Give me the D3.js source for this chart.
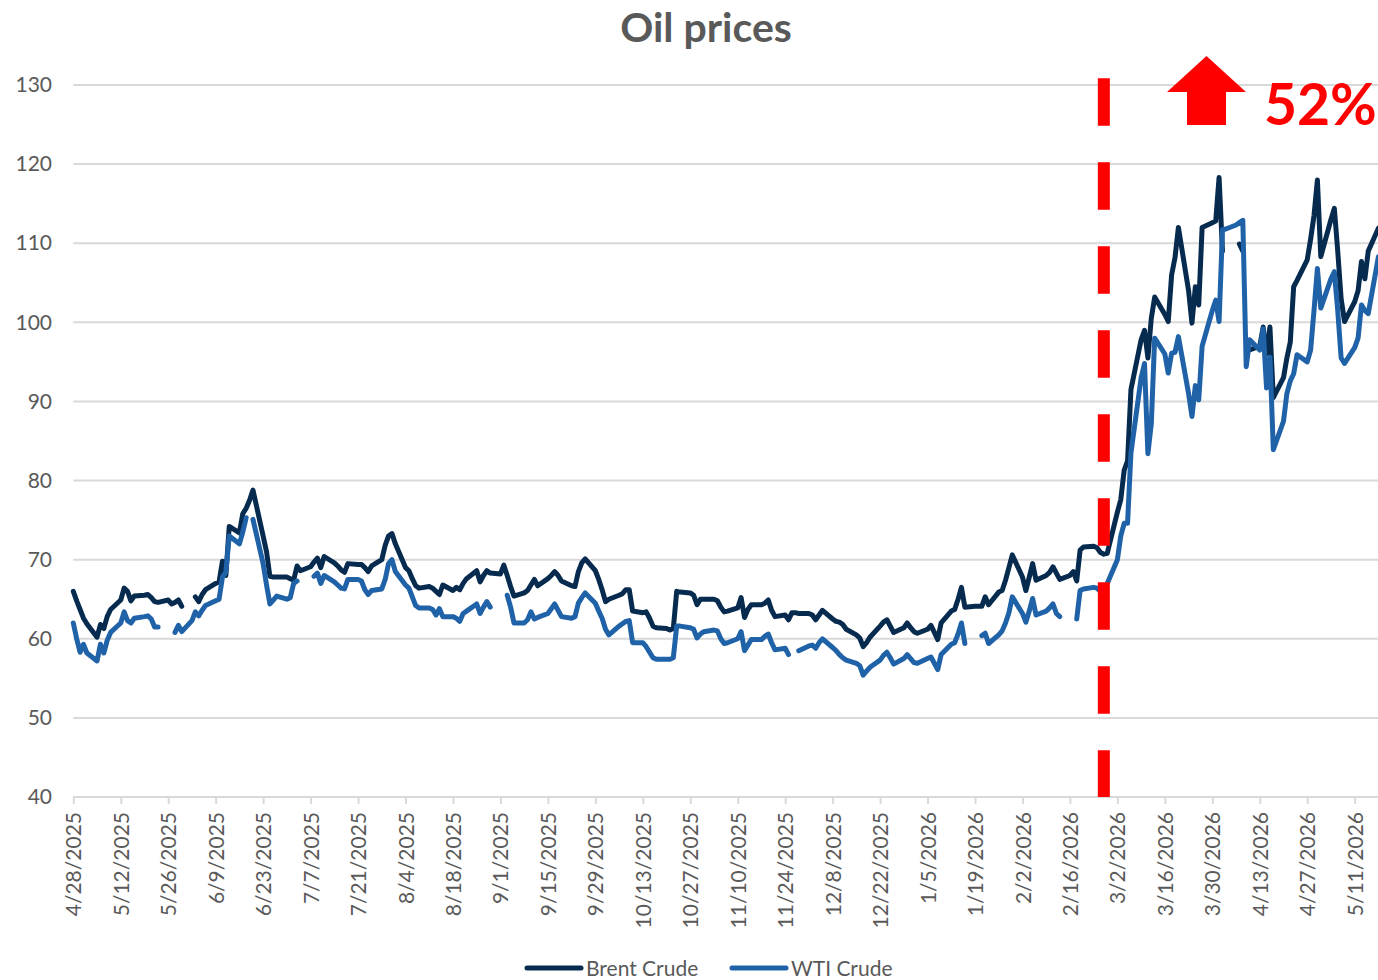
<!DOCTYPE html>
<html><head><meta charset="utf-8">
<script src="https://cdn.jsdelivr.net/npm/d3@7"></script>
<style>
body{margin:0;background:#fff}
svg{display:block}
text{font-family:Lato,"Noto Sans",sans-serif}
</style>
</head><body>
<svg id="chart" width="1378" height="980"></svg>
<script>
// ---------------- data ----------------
const chartTitle = "Oil prices";
const seriesNames = ["Brent Crude", "WTI Crude"];
const seriesColors = ["#062b4f", "#2062a8"];
// one value per trading weekday (Mon..Fri) starting on this date; null = no quote
const firstTradingDay = "2025-04-28";
const brent = [
 66.0,64.8,63.7,62.6,61.9,  60.2,61.8,61.3,62.8,63.7,  64.9,66.4,66.0,64.8,65.4,  65.5,65.6,65.2,64.7,64.6,
 64.9,64.4,64.6,64.9,64.1,  null,65.3,64.7,65.6,66.2,  67.0,67.2,69.8,68.0,74.2,  73.4,75.8,76.5,77.5,78.8,
 73.0,71.0,67.9,67.8,67.8,  67.8,67.6,67.4,69.2,68.6,  69.1,69.7,70.2,69.0,70.4,  69.6,69.2,68.7,68.4,69.5,
 69.4,69.4,69.0,68.5,69.2,  70.0,71.8,73.0,73.3,72.0,  69.0,68.6,67.6,66.7,66.4,  66.6,66.4,66.0,65.6,66.8,
 66.1,66.5,66.2,67.0,67.6,  68.6,67.2,68.0,68.6,68.3,  68.2,69.3,68.0,66.6,65.4,  65.8,66.1,66.8,67.5,66.7,
 67.6,68.0,68.5,68.0,67.3,  66.7,66.6,68.5,69.6,70.1,  68.6,67.5,66.2,64.7,65.0,  65.5,65.7,66.2,66.2,63.5,
 63.3,63.4,62.6,61.6,61.4,  61.3,61.1,61.3,66.0,65.9,  65.8,65.5,64.3,65.0,65.0,  65.0,64.8,64.0,63.4,63.5,
 63.9,65.2,62.7,63.7,64.3,  64.3,64.5,64.9,63.6,62.8,  63.0,62.4,63.3,63.3,63.2,  63.2,63.0,62.4,63.0,63.6,
 62.5,62.2,62.1,61.8,61.2,  60.5,60.1,59.0,59.5,60.2,  61.6,62.1,62.4,61.6,60.8,  61.4,62.0,61.4,60.9,60.7,
 61.2,61.7,60.8,59.9,62.0,  63.5,63.7,65.0,66.5,64.0,  64.1,64.1,64.1,65.3,64.3,  65.9,66.1,67.4,69.0,70.6,
 67.8,66.1,67.8,69.5,67.4,  68.0,68.4,69.1,68.3,67.5,  68.0,68.5,67.3,71.2,71.6,  71.7,71.5,70.9,70.7,70.8,
 76.0,77.6,81.3,82.5,91.5,  97.8,99.0,95.5,100.5,103.2, 101.0,100.1,106.0,108.2,112.0, 104.0,99.9,104.5,102.2,112.0,
 112.6,112.8,118.3,109.0,null, null,109.9,109.0,null,96.5, 97.0,99.4,96.0,99.4,90.5, 93.0,95.5,97.5,104.5,105.3,
 107.9,110.5,113.5,118.0,108.3, 113.0,114.4,109.0,103.0,100.1, 102.6,104.0,107.7,105.5,109.0,
 111.9
];
const wti = [
 62.0,60.0,58.3,59.3,58.2,  57.2,59.3,58.2,59.8,60.8,  62.0,63.4,62.3,62.0,62.6,  62.8,62.9,62.5,61.5,61.5,
 null,null,60.8,61.7,60.9,  62.3,63.4,62.9,63.6,64.2,  64.8,65.0,67.8,68.4,73.0,  72.0,73.5,75.3,null,75.1,
 69.5,66.8,64.4,64.9,65.4,  65.0,65.2,67.0,67.3,null,  null,67.9,68.3,67.0,68.0,  67.2,66.8,66.4,66.3,67.5,
 67.5,67.3,66.2,65.6,66.1,  66.3,67.5,69.5,70.0,68.5,  66.8,66.4,65.3,64.2,63.9,  63.9,63.7,63.0,63.8,62.8,
 62.8,62.6,62.2,63.2,63.5,  64.4,63.2,64.0,64.7,64.0,  null,null,65.5,64.0,62.0,  62.0,62.4,63.4,62.5,62.7,
 63.2,63.8,64.4,63.6,62.8,  62.6,62.8,64.5,65.2,65.8,  64.5,63.5,62.6,61.2,60.5,  61.6,61.9,62.2,62.3,59.5,
 59.5,59.0,58.3,57.6,57.4,  57.4,57.4,57.6,61.6,61.6,  61.4,61.2,60.1,60.6,60.9,  61.1,61.0,60.0,59.4,59.5,
 60.0,60.9,58.5,59.2,59.9,  59.9,60.3,60.6,59.5,58.6,  58.8,58.0,null,null,58.5,  59.1,59.2,58.8,59.5,60.0,
 58.9,58.5,58.0,57.6,57.3,  56.9,56.6,55.4,55.9,56.4,  57.3,57.9,58.3,57.6,56.8,  57.5,58.0,57.5,57.0,56.9,
 57.5,57.7,56.9,56.1,58.0,  59.3,59.5,60.6,62.0,59.4,  null,null,60.4,60.7,59.4,  60.5,61.0,62.0,63.3,65.3,
 63.2,62.1,63.5,65.1,63.0,  63.5,63.9,64.4,63.2,62.8,  null,null,62.5,66.1,66.3,  66.5,66.4,66.0,66.0,67.0,
 70.0,73.0,74.6,74.6,83.5,  93.0,94.8,83.4,87.2,98.0,  96.0,93.6,96.1,96.2,98.2,  91.0,88.1,92.0,90.2,97.0,
 101.5,102.8,100.1,111.7,111.8, 112.3,112.6,112.9,94.4,97.8, 96.5,99.2,91.7,95.6,83.9, 87.5,91.0,92.6,93.5,95.9,
 95.0,96.5,101.5,106.8,101.8, 105.5,106.4,101.5,95.5,94.8, 96.8,98.0,102.2,101.5,101.1,
 108.3
];
const yTicks = [40, 50, 60, 70, 80, 90, 100, 110, 120, 130];
const xTickLabels = ["4/28/2025","5/12/2025","5/26/2025","6/9/2025","6/23/2025","7/7/2025","7/21/2025",
 "8/4/2025","8/18/2025","9/1/2025","9/15/2025","9/29/2025","10/13/2025","10/27/2025","11/10/2025",
 "11/24/2025","12/8/2025","12/22/2025","1/5/2026","1/19/2026","2/2/2026","2/16/2026","3/2/2026",
 "3/16/2026","3/30/2026","4/13/2026","4/27/2026","5/11/2026"];
const xDomain = ["2025-04-28", "2026-05-19"];
const yDomain = [40, 130];
const eventDate = "2026-02-26";
const changeLabel = "52%";

// ---------------- drawing ----------------
const W = 1378, H = 980;
const M = {left: 73.3, top: 85, bottom: 797};
const pxPerDay = 3.3899;
const parseISO = d3.timeParse("%Y-%m-%d");
const parseUS = d3.timeParse("%m/%d/%Y");
const fmtUS = d => `${d.getMonth()+1}/${d.getDate()}/${d.getFullYear()}`;

const dates = [];
for (let d = parseISO(firstTradingDay); dates.length < brent.length; d = d3.timeDay.offset(d, 1)) {
  const wd = d.getDay();
  if (wd !== 0 && wd !== 6) dates.push(d);
}
const x0 = parseISO(xDomain[0]), x1 = parseISO(xDomain[1]);
const x = d3.scaleTime().domain([x0, x1])
  .range([M.left, M.left + d3.timeDay.count(x0, x1) * pxPerDay]);
const y = d3.scaleLinear().domain(yDomain).range([M.bottom, M.top]);

const svg = d3.select("#chart");
const txt = "#595959", grid = "#d9d9d9";

// gridlines
svg.append("g").selectAll("line").data(yTicks.filter(t => t > yDomain[0])).join("line")
  .attr("x1", M.left).attr("x2", W).attr("y1", d => y(d)).attr("y2", d => y(d))
  .attr("stroke", grid).attr("stroke-width", 2);

// y axis labels
const yAxis = d3.axisLeft(y).tickValues(yTicks).tickSize(0).tickPadding(0);
const gy = svg.append("g").attr("transform", `translate(52,0)`).call(yAxis);
gy.select(".domain").remove();
gy.selectAll("text").attr("fill", txt).style("font-size", "21px").style("font-family", "Lato");

// x axis
const xTickDates = xTickLabels.map(parseUS);
const xAxis = d3.axisBottom(x).tickValues(xTickDates).tickSize(7).tickFormat(fmtUS);
const gx = svg.append("g").attr("transform", `translate(0,${M.bottom})`).call(xAxis);
gx.select(".domain").attr("d", `M${M.left},0H${W}`).attr("stroke", grid).attr("stroke-width", 2);
gx.selectAll(".tick line").attr("stroke", grid).attr("stroke-width", 2);
gx.selectAll(".tick text")
  .attr("fill", txt).style("font-size", "21px").style("font-family", "Lato")
  .attr("text-anchor", "end").attr("transform", "rotate(-90)")
  .attr("x", -15).attr("y", 0).attr("dy", "0.36em");

// series
const line = d3.line().defined(d => d.v != null).x(d => x(d.date)).y(d => y(d.v));
[brent, wti].forEach((arr, i) => {
  const pts = arr.map((v, k) => ({date: dates[k], v}));
  svg.append("path").datum(pts).attr("d", line)
    .attr("fill", "none").attr("stroke", seriesColors[i]).attr("stroke-width", 5)
    .attr("stroke-linejoin", "round").attr("stroke-linecap", "round");
});

// event marker (red dashed vertical)
const ex = x(parseISO(eventDate));
svg.append("line").attr("x1", ex).attr("x2", ex).attr("y1", y(130.85)).attr("y2", y(40))
  .attr("stroke", "#ff0000").attr("stroke-width", 12).attr("stroke-dasharray", "47.5 36.5");

// up arrow + label
const ax = 1206.5, ay = 56;
svg.append("path")
  .attr("d", `M${ax},${ay} L${ax+39.5},${ay+36} L${ax+19.5},${ay+36} L${ax+19.5},${ay+69} L${ax-19.5},${ay+69} L${ax-19.5},${ay+36} L${ax-39.5},${ay+36} Z`)
  .attr("fill", "#ff0000");
svg.append("text").attr("x", 1264).attr("y", 125).text(changeLabel)
  .attr("fill", "#ff0000").style("font-size", "57px").style("font-weight", 700);

// title
svg.append("text").attr("x", 706).attr("y", 42).attr("text-anchor", "middle").text(chartTitle)
  .attr("fill", txt).style("font-size", "41px").style("font-weight", 700);

// legend
const leg = svg.append("g");
const legX = [527, 732], legTextX = [586, 791];
seriesNames.forEach((n, i) => {
  leg.append("line").attr("x1", legX[i]).attr("x2", legX[i] + 54).attr("y1", 968).attr("y2", 968)
    .attr("stroke", seriesColors[i]).attr("stroke-width", 5).attr("stroke-linecap", "round");
  leg.append("text").attr("x", legTextX[i]).attr("y", 976).text(n)
    .attr("fill", txt).style("font-size", "21px");
});
</script>
</body></html>
